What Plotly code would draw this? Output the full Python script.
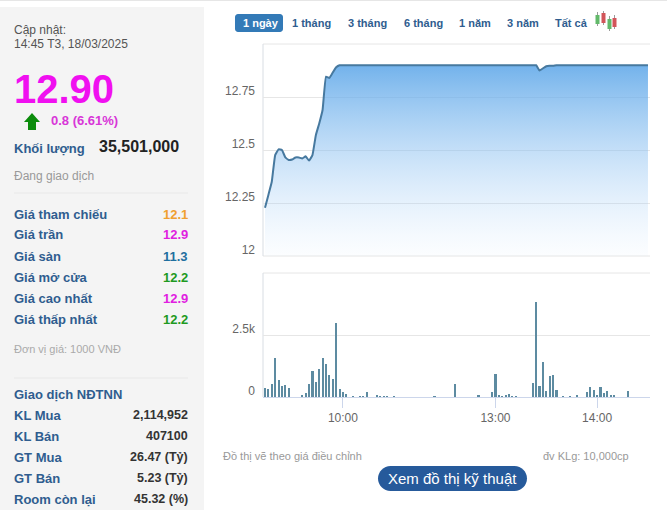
import plotly.graph_objects as go

W, H = 667, 516
FONT = "Liberation Sans, Arial, sans-serif"
LABEL = "#2f5d8f"

# ---------- data ----------
times_am = [f"{9 + (14 + 2 * i) // 60:02d}:{(14 + 2 * i) % 60:02d}" for i in range(68)]
times_pm = [f"{13 + (2 * i) // 60:02d}:{(2 * i) % 60:02d}" for i in range(46)]
times = times_am + times_pm

price = [
    12.228, 12.288, 12.35, 12.476, 12.503, 12.50, 12.465, 12.453, 12.455, 12.465,
    12.465, 12.46, 12.47, 12.45, 12.476, 12.57, 12.625, 12.69, 12.846, 12.84,
    12.866, 12.89, 12.90, 12.90, 12.90, 12.90, 12.90, 12.90, 12.90, 12.90,
    12.90, 12.90, 12.90, 12.90, 12.90, 12.90, 12.90, 12.90, 12.90, 12.90,
    12.90, 12.90, 12.90, 12.90, 12.90, 12.90, 12.90, 12.90, 12.90, 12.90,
    12.90, 12.90, 12.90, 12.90, 12.90, 12.90, 12.90, 12.90, 12.90, 12.90,
    12.90, 12.90, 12.90, 12.90, 12.90, 12.90, 12.90, 12.90, 12.90, 12.90,
    12.90, 12.90, 12.90, 12.90, 12.90, 12.90, 12.90, 12.90, 12.90, 12.90,
    12.90, 12.875, 12.885, 12.895, 12.897, 12.897, 12.90, 12.90, 12.90, 12.90,
    12.90, 12.90, 12.90, 12.90, 12.90, 12.90, 12.90, 12.90, 12.90, 12.90,
    12.90, 12.90, 12.90, 12.90, 12.90, 12.90, 12.90, 12.90, 12.90, 12.90,
    12.90, 12.90, 12.90, 12.90,
]
volume = [
    365, 325, 540, 1580, 690, 450, 500, 365, 0, 0,
    0, 70, 160, 530, 1050, 600, 1135, 1580, 1340, 890,
    730, 3000, 325, 200, 120, 0, 30, 0, 30, 30,
    200, 0, 0, 70, 40, 40, 40, 0, 40, 0,
    0, 0, 0, 0, 0, 0, 0, 0, 0, 0,
    30, 0, 0, 0, 0, 0, 540, 0, 0, 0,
    0, 0, 0, 70, 0, 0, 0, 200, 930, 70,
    40, 70, 120, 40, 40, 0, 0, 0, 0, 570,
    3850, 450, 1420, 245, 850, 890, 285, 0, 40, 0,
    40, 0, 70, 0, 0, 200, 405, 285, 70, 405,
    160, 245, 70, 70, 0, 0, 0, 245, 0, 0,
    0, 0, 0, 0,
]

price_ticks = [12, 12.25, 12.5, 12.75, 13]
price_tick_text = ["12", "12.25", "12.5", "12.75", ""]
volume_ticks = [0, 2500, 5000]
volume_tick_text = ["0", "2.5k", ""]
time_ticks = ["10:00", "13:00", "14:00"]

tabs = ["1 ngày", "1 tháng", "3 tháng", "6 tháng", "1 năm", "3 năm", "Tất cả"]
tab_left = [243, 292, 348, 404, 459, 507, 555]

quote_labels = ["Giá tham chiếu", "Giá trần", "Giá sàn", "Giá mở cửa", "Giá cao nhất", "Giá thấp nhất"]
quote_values = ["12.1", "12.9", "11.3", "12.2", "12.9", "12.2"]
quote_colors = ["#f0a030", "#e020e0", "#1f6f9f", "#1f9a1f", "#e020e0", "#1f9a1f"]
foreign_labels = ["KL Mua", "KL Bán", "GT Mua", "GT Bán", "Room còn lại"]
foreign_values = ["2,114,952", "407100", "26.47 (Tỷ)", "5.23 (Tỷ)", "45.32 (%)"]


# ---------- pixel helpers for page furniture ----------
def fx(p):
    return p / W


def fy(p):
    return 1 - p / H


annotations = []


def text(x, y, s, size=12, color="#333", bold=False, anchor="left"):
    annotations.append(dict(
        x=fx(x), y=fy(y), xref="paper", yref="paper", text=f"<b>{s}</b>" if bold else s,
        showarrow=False, xanchor=anchor, yanchor="middle", borderpad=0, borderwidth=0,
        xshift=0, yshift=0, font=dict(family=FONT, size=size, color=color),
    ))


shapes = []


def rect(x0, y0, x1, y1, color):
    shapes.append(dict(type="rect", xref="paper", yref="paper", x0=fx(x0), x1=fx(x1),
                       y0=fy(y0), y1=fy(y1), fillcolor=color, line_width=0, layer="below"))


def hline(x0, x1, y, color, width=1):
    shapes.append(dict(type="line", xref="paper", yref="paper", x0=fx(x0), x1=fx(x1),
                       y0=fy(y), y1=fy(y), line=dict(color=color, width=width), layer="below"))


def vline(x, y0, y1, color, width=1, layer="above"):
    shapes.append(dict(type="line", xref="paper", yref="paper", x0=fx(x), x1=fx(x),
                       y0=fy(y0), y1=fy(y1), line=dict(color=color, width=width), layer=layer))


def poly(points, color):
    path = "M " + " L ".join(f"{fx(a):.5f},{fy(b):.5f}" for a, b in points) + " Z"
    shapes.append(dict(type="path", xref="paper", yref="paper", path=path,
                       fillcolor=color, line_width=0, layer="above"))


def pill(x0, y0, x1, y1, r, color):
    k = 0.45 * r
    cmds = [
        f"M {fx(x0 + r):.5f},{fy(y0):.5f}", f"L {fx(x1 - r):.5f},{fy(y0):.5f}",
        f"C {fx(x1 - k):.5f},{fy(y0):.5f} {fx(x1):.5f},{fy(y0 + k):.5f} {fx(x1):.5f},{fy(y0 + r):.5f}",
        f"L {fx(x1):.5f},{fy(y1 - r):.5f}",
        f"C {fx(x1):.5f},{fy(y1 - k):.5f} {fx(x1 - k):.5f},{fy(y1):.5f} {fx(x1 - r):.5f},{fy(y1):.5f}",
        f"L {fx(x0 + r):.5f},{fy(y1):.5f}",
        f"C {fx(x0 + k):.5f},{fy(y1):.5f} {fx(x0):.5f},{fy(y1 - k):.5f} {fx(x0):.5f},{fy(y1 - r):.5f}",
        f"L {fx(x0):.5f},{fy(y0 + r):.5f}",
        f"C {fx(x0):.5f},{fy(y0 + k):.5f} {fx(x0 + k):.5f},{fy(y0):.5f} {fx(x0 + r):.5f},{fy(y0):.5f} Z",
    ]
    shapes.append(dict(type="path", xref="paper", yref="paper", path=" ".join(cmds),
                       fillcolor=color, line_width=0, layer="above"))


# ---------- left panel ----------
hline(0, W, 0.5, "#e6e6e6")
rect(0, 7, 204, 510, "#f4f4f4")
text(14, 30, "Cập nhật:", 12, "#555")
text(14, 44, "14:45 T3, 18/03/2025", 12, "#555")
text(14, 89, "12.90", 40, "#f010f0", True)
poly([(32, 113), (40, 122), (36, 122), (36, 130), (28, 130), (28, 122), (24, 122)], "#0c8c0c")
text(51, 121, "0.8 (6.61%)", 13, "#d836d8", True)
text(14, 148, "Khối lượng", 13, LABEL, True)
text(99, 146, "35,501,000", 16, "#222", True)
text(14, 176, "Đang giao dịch", 12, "#999")
hline(14, 188, 193, "#e8e8e8")
for i, (a, b, c) in enumerate(zip(quote_labels, quote_values, quote_colors)):
    y = 214 + 21 * i
    text(14, y, a, 13, LABEL, True)
    text(188, y, b, 13, c, True, "right")
text(14, 349, "Đơn vị giá: 1000 VNĐ", 11, "#aaa")
hline(14, 188, 378, "#e8e8e8")
text(14, 394, "Giao dịch NĐTNN", 13, LABEL, True)
for i, (a, b) in enumerate(zip(foreign_labels, foreign_values)):
    y = 415 + 21 * i
    text(14, y, a, 13, LABEL, True)
    text(188, y, b, 12.5, "#333", True, "right")

# ---------- tabs ----------
pill(235, 14, 283, 32, 3, "#337ab7")
for i, (t, x) in enumerate(zip(tabs, tab_left)):
    text(x, 23, t, 11, "#ffffff" if i == 0 else LABEL, True)
for x, y0, y1, b0, b1, c in [
    (597.5, 12, 26, 15, 24, "#62b96a"),
    (603.5, 11, 25, 13, 23, "#d2555a"),
    (609.5, 16, 31, 19, 29, "#62b96a"),
    (614.5, 15, 29, 18, 27, "#d2555a"),
]:
    vline(x, y0, y1, "#9a9a9a")
    rect(x - 2, b0, x + 2, b1, c)
    shapes[-1]["layer"] = "above"

# ---------- plot frames ----------
for y in (44, 256, 273):
    hline(263, 650, y, "#e6e6e6")
vline(263, 44, 256, "#d8dde3", layer="below")
vline(263, 273, 397, "#d8dde3", layer="below")

# ---------- footer ----------
text(223, 456, "Đồ thị vẽ theo giá điều chỉnh", 11, "#999")
text(629, 456, "đv KLg: 10,000cp", 11, "#999", anchor="right")
pill(378, 466, 527, 491, 12.5, "#265a9b")
text(452.5, 478.5, "Xem đồ thị kỹ thuật", 15, "#ffffff", anchor="center")

# ---------- chart ----------
fig = go.Figure()
fig.add_trace(go.Scatter(
    x=times, y=price, mode="lines", xaxis="x", yaxis="y",
    line=dict(color="#47799f", width=2, shape="spline", smoothing=0.3),
    fill="tozeroy",
    fillgradient=dict(type="vertical", start=12, stop=12.9,
                      colorscale=[[0, "rgba(190,220,250,0.05)"], [1, "rgba(90,165,232,0.85)"]]),
    hoverinfo="skip",
))
fig.add_trace(go.Bar(
    x=times, y=volume, xaxis="x2", yaxis="y2", marker=dict(color="#5d8ba1", line_width=0),
    width=0.62, hoverinfo="skip",
))

x_range = [-0.59, 113.6]
tick_font = dict(family=FONT, size=12, color="#666")
common_y = dict(showline=False, zeroline=False, gridcolor="#e6e6e6", gridwidth=1, tickmode="array",
                ticks="", tickfont=tick_font, ticklabelshift=-6, ticklabelstandoff=7, automargin=False)
common_x = dict(type="category", categoryorder="array", categoryarray=times, range=x_range,
                showgrid=False, zeroline=False, tickmode="array", tickvals=time_ticks, ticktext=time_ticks,
                tickfont=tick_font, automargin=False)

fig.update_layout(
    width=W, height=H, autosize=False, margin=dict(l=0, r=0, t=0, b=0, pad=0),
    paper_bgcolor="white", plot_bgcolor="rgba(0,0,0,0)", showlegend=False, bargap=0,
    font=dict(family=FONT),
    xaxis=dict(common_x, domain=[fx(263), fx(650)], anchor="y", showticklabels=False, ticks="",
               showline=False),
    yaxis=dict(common_y, domain=[fy(256), fy(44)], range=[12, 13], tickvals=price_ticks,
               ticktext=price_tick_text, anchor="x"),
    xaxis2=dict(common_x, domain=[fx(263), fx(650)], anchor="y2", ticks="outside", ticklen=10,
                tickcolor="#ccd6eb", tickwidth=1, showline=True, linecolor="#ccd6eb", linewidth=1),
    yaxis2=dict(common_y, domain=[fy(397), fy(273)], range=[0, 5000], tickvals=volume_ticks,
                ticktext=volume_tick_text, anchor="x2"),
    annotations=annotations,
    shapes=shapes,
)

fig.write_html("out.html", config={"displayModeBar": False},
               post_script="document.body.style.margin='0';document.documentElement.style.overflow='hidden';")
